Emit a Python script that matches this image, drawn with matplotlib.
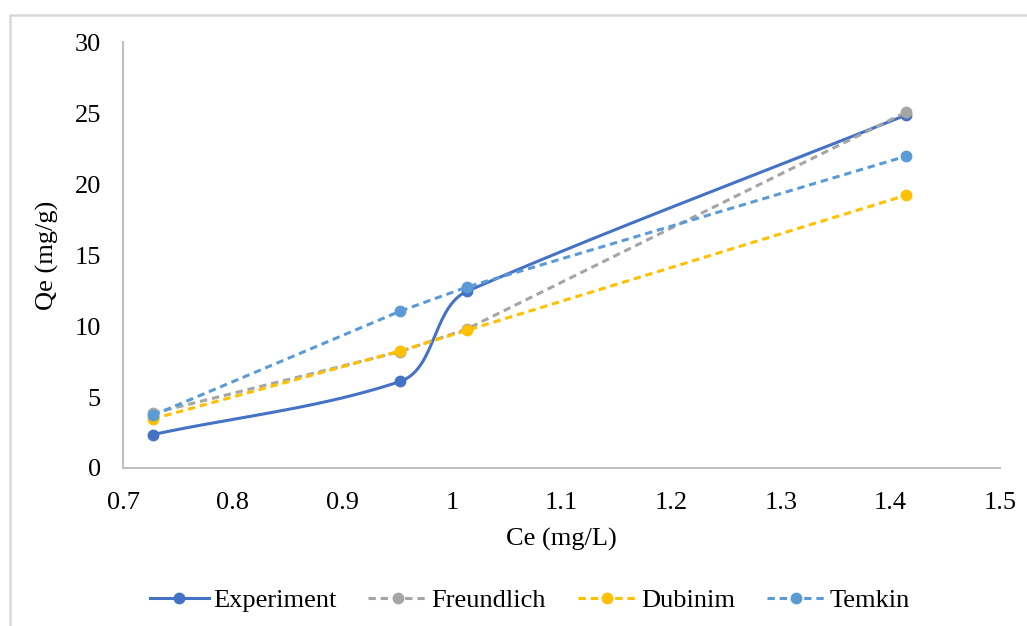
import numpy as np
import matplotlib
matplotlib.use("Agg")
import matplotlib.pyplot as plt
from matplotlib.lines import Line2D

# Isotherm data: equilibrium concentration vs. adsorbed amount
ce = [0.727, 0.953, 1.014, 1.414]
q_experiment = [2.35, 6.1, 12.45, 24.85]
q_freundlich = [3.85, 8.2, 9.8, 25.05]
q_dubinin = [3.45, 8.25, 9.7, 19.2]
q_temkin = [3.7, 11.05, 12.75, 21.95]

series_names = ["Experiment", "Freundlich", "Dubinim", "Temkin"]
series_colors = ["#4472C4", "#A5A5A5", "#FFC000", "#5B9BD5"]

x_ticks = [0.7, 0.8, 0.9, 1.0, 1.1, 1.2, 1.3, 1.4, 1.5]
x_tick_labels = ["0.7", "0.8", "0.9", "1", "1.1", "1.2", "1.3", "1.4", "1.5"]
y_ticks = [0, 5, 10, 15, 20, 25, 30]

plt.rcParams["font.family"] = ["Liberation Serif", "DejaVu Serif"]
FS = 19

W, H = 1027, 626
fig = plt.figure(figsize=(W / 100, H / 100), dpi=100)
ax = fig.add_axes([123 / W, 1 - 468 / H, (1000 - 123) / W, (468 - 42) / H])
ax.set_xlim(0.7, 1.5)
ax.set_ylim(0, 30)


def smooth_path(ax, xs, ys, n=60):
    """Bezier smoothing in display space; tangent directions favour the
    longer neighbouring chord, control arms are a third of each chord."""
    pts = ax.transData.transform(np.column_stack([xs, ys]))
    m = len(pts)
    tangents = []
    for i in range(m):
        if i == 0:
            v = pts[1] - pts[0]
        elif i == m - 1:
            v = pts[-1] - pts[-2]
        else:
            a = pts[i] - pts[i - 1]
            b = pts[i + 1] - pts[i]
            v = a * np.linalg.norm(a) + b * np.linalg.norm(b)
        tangents.append(v / np.linalg.norm(v))
    out = [pts[0]]
    for i in range(m - 1):
        p1, p2 = pts[i], pts[i + 1]
        d = np.linalg.norm(p2 - p1) / 3.0
        c1 = p1 + tangents[i] * d
        c2 = p2 - tangents[i + 1] * d
        t = np.linspace(0, 1, n)[1:, None]
        seg = ((1 - t) ** 3) * p1 + 3 * ((1 - t) ** 2) * t * c1 \
            + 3 * (1 - t) * t ** 2 * c2 + t ** 3 * p2
        out.extend(seg)
    out = np.array(out)
    return ax.transData.inverted().transform(out)


lw = 2.2
ms = 7.5
dash = (0, (2.4, 1.6))

# Model fits (dashed)
for ys, name, col, z in [(q_freundlich, "Freundlich", series_colors[1], 3),
                         (q_dubinin, "Dubinim", series_colors[2], 4),
                         (q_temkin, "Temkin", series_colors[3], 5)]:
    ax.plot(ce, ys, color=col, lw=lw, ls=dash, marker="o", ms=ms,
            mec=col, mfc=col, zorder=z, label=name)

# Experimental data (smoothed solid line)
sm = smooth_path(ax, ce, q_experiment)
ax.plot(sm[:, 0], sm[:, 1], color=series_colors[0], lw=lw, zorder=2)
ax.plot(ce, q_experiment, ls="none", marker="o", ms=ms, color=series_colors[0], zorder=2)

spine_col = "#BFBFBF"
for s in ["top", "right"]:
    ax.spines[s].set_visible(False)
for s in ["left", "bottom"]:
    ax.spines[s].set_color(spine_col)
    ax.spines[s].set_linewidth(1.5)

ax.set_xticks(x_ticks)
ax.set_xticklabels(x_tick_labels)
ax.set_yticks(y_ticks)
ax.tick_params(axis="both", length=0, labelsize=FS, colors="#000000")
ax.tick_params(axis="y", pad=16)
ax.tick_params(axis="x", pad=17)

ax.set_xlabel("Ce (mg/L)", fontsize=FS, labelpad=10)
ax.set_ylabel("Qe (mg/g)", fontsize=FS, labelpad=11)

handles = [
    Line2D([], [], color=series_colors[0], lw=lw, marker="o", ms=ms),
    Line2D([], [], color=series_colors[1], lw=lw, ls=dash, marker="o", ms=ms),
    Line2D([], [], color=series_colors[2], lw=lw, ls=dash, marker="o", ms=ms),
    Line2D([], [], color=series_colors[3], lw=lw, ls=dash, marker="o", ms=ms),
]
fig.legend(handles, series_names, loc="center", bbox_to_anchor=(530 / W, 1 - 600 / H),
           ncol=4, frameon=False, fontsize=FS, handlelength=2.25, handletextpad=0.15,
           columnspacing=1.2, borderaxespad=0)

# Chart-area border (top and left edges)
fig.add_artist(Line2D([10 / W, 10 / W, 1.0], [0.0, 1 - 15 / H, 1 - 15 / H],
                      transform=fig.transFigure, color="#D9D9D9", lw=1.8))

fig.savefig("out.png", dpi=100)
